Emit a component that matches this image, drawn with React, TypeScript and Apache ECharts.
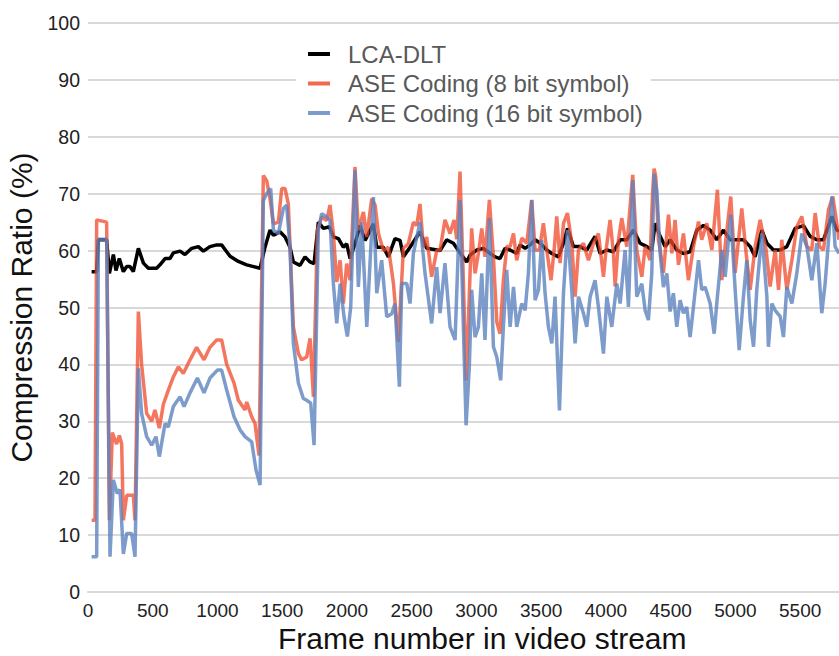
import React, { useEffect, useRef } from "react";
import * as echarts from "echarts";

const seriesNames = ["LCA-DLT", "ASE Coding (8 bit symbol)", "ASE Coding (16 bit symbol)"];
const xTitle = "Frame number in video stream";
const yTitle = "Compression Ratio (%)";

// [frame, compression ratio %]
const lcaDlt: [number, number][] = [
  [28,56.3],[67,56.3],[80,61.9],[144,61.9],[165,56],[196,59.3],[216,56.5],[242,58.6],[273,56.3],[299,57.2],
  [324,57.2],[350,56.3],[389,60.4],[428,57.8],[466,56.9],[530,56.9],[556,57.5],[595,58.6],[633,58.6],[659,59.6],
  [711,59.9],[749,59.3],[801,60.4],[852,60.7],[891,59.9],[942,60.7],[994,61],[1032,61],[1058,60.2],[1097,59],
  [1161,58.1],[1226,57.5],[1329,56.9],[1367,60.6],[1406,63.6],[1432,62.7],[1483,63.3],[1522,62.4],[1560,60.6],[1586,58],
  [1637,57.4],[1676,58.9],[1715,58],[1746,57.7],[1779,65],[1818,63.9],[1864,64.2],[1895,62.4],[1934,62.1],[1972,60.6],
  [1998,61.2],[2024,58.6],[2062,61.2],[2101,64.4],[2140,61.8],[2204,64.7],[2230,60.6],[2281,60.6],[2320,58.9],[2371,62.1],
  [2410,61.8],[2436,58.9],[2487,60.6],[2564,63.3],[2616,60.4],[2719,60],[2770,61.9],[2822,61.3],[2886,59.2],[2925,58],
  [2950,59.2],[3002,60.1],[3054,60.4],[3105,59.5],[3144,58.9],[3182,58.6],[3221,60.4],[3260,60.1],[3311,59.5],[3337,61],
  [3376,60.4],[3414,61],[3453,61.9],[3492,61.3],[3543,60.1],[3582,59.5],[3633,58.9],[3672,61.3],[3703,63.9],[3749,60.7],
  [3801,60.7],[3852,60.1],[3916,62.5],[3955,59.5],[4007,60.1],[4058,59.8],[4110,61.9],[4161,61.9],[4213,63.6],[4264,61.3],
  [4316,60.7],[4354,60.1],[4380,64.8],[4419,62.5],[4457,60.7],[4496,61.9],[4547,60.1],[4599,59.5],[4650,59.8],[4702,63.6],
  [4753,64.4],[4805,63.6],[4856,61.9],[4908,63.6],[4959,61.9],[5011,61.9],[5062,61.9],[5114,60.7],[5152,58.9],[5204,63.6],
  [5243,61.3],[5294,60.1],[5346,60.1],[5397,60.7],[5461,63.9],[5526,64.4],[5577,62.5],[5629,61.9],[5680,61.9],[5745,66],
  [5783,63.6],[5800,63.5]
];

const ase8: [number, number][] = [
  [28,12.6],[54,12.6],[67,65.4],[144,65],[165,12.6],[188,28],[221,26],[242,27.5],[260,26],[273,12.6],
  [299,17],[350,17],[363,12.6],[389,49.3],[414,40],[453,31.4],[492,30],[517,32],[551,28.8],[582,33],
  [613,35],[659,37.8],[698,39.6],[736,38.4],[788,40.8],[839,43],[896,40.8],[942,43],[994,44.3],[1032,44.3],
  [1071,40],[1128,36.7],[1161,33.7],[1213,32],[1226,33.4],[1264,30.8],[1290,29.6],[1321,24],[1354,73.2],[1380,72.3],
  [1406,69.1],[1432,64.7],[1470,65],[1496,70.9],[1522,70.9],[1547,68.2],[1586,46.6],[1625,41.9],[1650,40.8],[1689,41.3],
  [1715,44.6],[1741,34.3],[1771,63.6],[1805,65.9],[1844,65.3],[1869,68],[1895,63],[1921,54.5],[1947,58.3],[1972,50.7],
  [1998,57.7],[2024,54.8],[2062,74.7],[2088,63.6],[2127,66.8],[2153,62.4],[2191,69.1],[2217,68],[2243,63],[2281,60],
  [2320,60.6],[2359,54.2],[2397,44],[2436,60.4],[2474,61.2],[2513,65],[2539,64.4],[2564,68.2],[2590,60.6],[2616,62.4],
  [2654,55.4],[2693,60],[2719,60.1],[2757,65.4],[2796,63],[2827,65.4],[2848,62],[2873,73.9],[2899,54.8],[2920,37.2],
  [2938,47.8],[2963,63.9],[2989,56],[3015,59.5],[3041,63.9],[3066,58.9],[3100,68.9],[3131,58.9],[3157,47.5],[3182,45.4],
  [3208,54.8],[3234,60.7],[3260,60.7],[3286,63],[3311,58.3],[3350,62.2],[3389,61.3],[3427,68.9],[3453,60.1],[3486,60.1],
  [3517,64.8],[3543,60.1],[3576,54.8],[3600,60.1],[3620,66],[3646,57.8],[3672,64.8],[3703,66.6],[3736,61.3],[3762,51.9],
  [3788,60.1],[3826,61.3],[3865,58.3],[3904,61.3],[3942,63],[3981,55.4],[4001,60.1],[4032,65.4],[4058,59.5],[4071,53.7],
  [4097,61.9],[4122,65.7],[4161,60.7],[4207,73.3],[4238,60.1],[4277,55.4],[4303,60.7],[4341,58.3],[4360,70],[4372,74.4],
  [4385,73],[4405,61.9],[4419,60.1],[4444,56.1],[4483,66.3],[4509,59.5],[4534,65.4],[4560,57.5],[4599,63],[4637,54.8],
  [4676,60.7],[4715,65.1],[4740,61.9],[4779,64.8],[4818,60.1],[4861,70.7],[4895,54.8],[4928,62.4],[4964,69.5],[4998,56.1],
  [5049,67.4],[5083,59.5],[5114,53.1],[5152,60.7],[5191,65.4],[5237,60.1],[5268,53.7],[5307,60.1],[5333,53.1],[5358,61.9],
  [5397,53.1],[5436,58.3],[5474,64.2],[5513,66],[5552,60.7],[5590,60.1],[5616,66.6],[5649,60.7],[5680,60.1],[5719,67.2],
  [5752,69.5],[5783,64.8],[5800,61.9]
];

const ase16: [number, number][] = [
  [28,6.2],[67,6.2],[80,62],[144,62],[170,6.2],[196,19.7],[226,17.3],[247,18],[273,6.7],[299,10.3],
  [337,10.3],[363,6.2],[389,39.3],[414,31.4],[453,27.3],[492,25.8],[525,27.3],[551,23.8],[595,29.6],[620,29],
  [659,32.6],[711,34.3],[742,32.6],[788,35],[845,37.6],[896,35],[942,37.6],[999,39],[1032,39],[1071,35.5],
  [1128,30.8],[1174,28.5],[1213,27.3],[1264,26.4],[1298,21.4],[1329,18.8],[1354,68.8],[1380,70],[1411,70.9],[1432,63.6],
  [1470,63],[1509,67.4],[1534,68],[1560,60.6],[1586,43.7],[1625,36.7],[1663,34],[1689,33.7],[1720,33.2],[1746,25.8],
  [1779,63.6],[1805,66.5],[1844,65.9],[1869,65.3],[1895,54.2],[1921,47.2],[1947,54.2],[1977,48.4],[2003,44.9],[2029,50.1],
  [2062,74.1],[2088,53.6],[2114,65],[2153,46.6],[2204,69.4],[2230,52.5],[2268,58.3],[2307,48.4],[2346,48.9],[2371,50.7],
  [2405,36.1],[2423,54.2],[2462,54.2],[2487,50.7],[2513,59.5],[2564,65],[2603,56],[2654,47.2],[2693,57.1],[2719,49],
  [2757,57.8],[2796,46.6],[2835,44.3],[2873,68.9],[2899,46.6],[2920,29.3],[2945,39.6],[2963,53.1],[2989,44.8],[3015,46.6],
  [3041,56],[3066,44.3],[3100,65.7],[3131,43.1],[3157,41.3],[3187,37.2],[3208,46.6],[3234,56.6],[3260,46.6],[3286,53.6],
  [3311,46.6],[3350,50.7],[3376,49.5],[3401,56],[3427,68.9],[3453,51.3],[3479,53.1],[3504,61.9],[3530,52.5],[3556,46.6],
  [3582,43.7],[3607,51.9],[3641,31.9],[3672,52.5],[3703,63.6],[3736,53.1],[3762,43.7],[3788,51.9],[3826,49],[3852,46.6],
  [3878,51.9],[3916,54.8],[3942,50.1],[3981,41.9],[4007,51.9],[4045,46.6],[4084,54.2],[4110,50.7],[4148,60.1],[4174,50.1],
  [4207,72.4],[4238,51.9],[4277,54.2],[4303,49.5],[4328,47.8],[4354,56],[4372,73.5],[4393,70.6],[4419,59.5],[4444,53.6],
  [4470,56],[4496,49.3],[4521,52.5],[4547,46.6],[4573,51.3],[4599,49],[4624,50.1],[4650,44.8],[4676,50.1],[4715,58.3],
  [4740,53.1],[4766,53.6],[4805,50.7],[4836,45.4],[4856,50.7],[4895,60.1],[4921,55.4],[4964,66.3],[4998,53.1],[5029,42.5],
  [5062,51.9],[5088,58.3],[5114,47.8],[5140,43.1],[5165,53.1],[5204,63],[5243,51.9],[5255,43.1],[5281,50.7],[5307,49.5],
  [5346,48.4],[5371,44.8],[5397,53.6],[5436,50.7],[5474,56],[5513,63],[5552,60.7],[5590,54.8],[5629,61.3],[5667,49],
  [5693,54.2],[5745,69.5],[5770,60.7],[5800,59.5]
];

const FONT = "'Liberation Sans', Arial, sans-serif";

export default function App() {
  const ref = useRef<HTMLDivElement>(null);
  useEffect(() => {
    if (!ref.current) return;
    const chart = echarts.init(ref.current, undefined, { renderer: "svg" });
    chart.setOption({
      animation: false,
      backgroundColor: "#ffffff",
      textStyle: { fontFamily: FONT },
      grid: { left: 88, right: 0, top: 23, bottom: 64, containLabel: false, outerBoundsMode: "none" },
      graphic: [
        {
          type: "text",
          left: 278,
          top: 623,
          style: { text: xTitle, fontSize: 30, fill: "#111", fontFamily: FONT },
        },
      ],
      legend: {
        orient: "vertical",
        left: 296,
        top: 37,
        backgroundColor: "#ffffff",
        padding: [5, 8, 5, 12],
        itemWidth: 22,
        itemHeight: 4,
        itemGap: 5.5,
        icon: "rect",
        textStyle: { fontSize: 24, color: "#595959", fontFamily: FONT, lineHeight: 24, padding: [0, 0, 0, 13] },
        data: [
          { name: seriesNames[0], itemStyle: { color: "#000000" } },
          { name: seriesNames[1], itemStyle: { color: "#F2694D" } },
          { name: seriesNames[2], itemStyle: { color: "#7A9BCB" } },
        ],
      },
      xAxis: {
        type: "value",
        min: 0,
        max: 5800,
        interval: 500,
        axisLine: { show: true, lineStyle: { color: "#d9d9d9", width: 2 } },
        axisTick: { show: false },
        splitLine: { show: false },
        axisLabel: {
          fontSize: 19,
          color: "#222",
          margin: 9,
          showMaxLabel: false,
          formatter: (v: number) => (v % 500 === 0 ? String(v) : ""),
        },
      },
      yAxis: {
        type: "value",
        min: 0,
        max: 100,
        interval: 10,
        name: yTitle,
        nameLocation: "middle",
        nameGap: 42,
        nameTextStyle: { fontSize: 30, color: "#111", fontFamily: FONT },
        axisLine: { show: false },
        axisTick: { show: false },
        splitLine: { lineStyle: { color: "#d9d9d9", width: 2 } },
        axisLabel: { fontSize: 19.5, color: "#222", margin: 8 },
      },
      series: [
        {
          name: seriesNames[0],
          type: "line",
          data: lcaDlt,
          symbol: "none",
          lineStyle: { color: "#000000", width: 3.5 },
          itemStyle: { color: "#000000" },
          z: 2,
        },
        {
          name: seriesNames[1],
          type: "line",
          data: ase8,
          symbol: "none",
          lineStyle: { color: "rgb(240,72,42)", width: 3.5, opacity: 0.75 },
          itemStyle: { color: "#F2694D" },
          z: 3,
        },
        {
          name: seriesNames[2],
          type: "line",
          data: ase16,
          symbol: "none",
          lineStyle: { color: "rgb(92,130,190)", width: 3.5, opacity: 0.8 },
          itemStyle: { color: "#7A9BCB" },
          z: 4,
        },
      ],
    });
    return () => chart.dispose();
  }, []);
  return (
    <div
      ref={ref}
      style={{ position: "fixed", left: 0, top: 0, width: 839, height: 656, background: "#fff" }}
    />
  );
}
